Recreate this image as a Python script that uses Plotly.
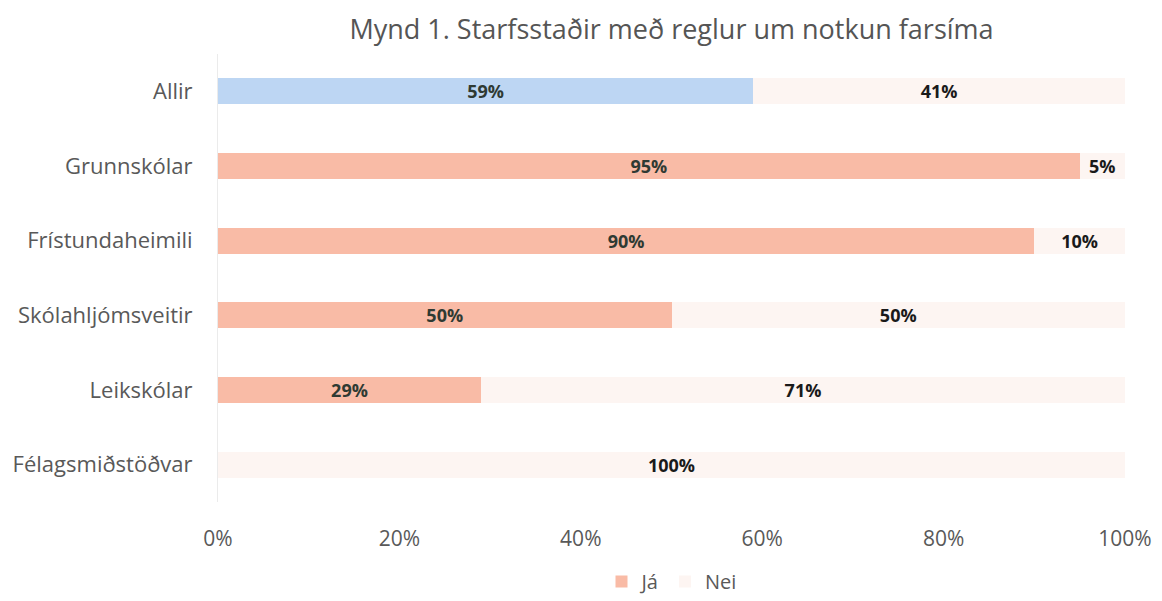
import plotly.graph_objects as go

categories = ["Allir", "Grunnskólar", "Frístundaheimili", "Skólahljómsveitir", "Leikskólar", "Félagsmiðstöðvar"]
ja_values = [59, 95, 90, 50, 29, 0]
nei_values = [41, 5, 10, 50, 71, 100]
x_ticks = [0, 20, 40, 60, 80, 100]
x_tick_labels = [f"{v}%" for v in x_ticks]

font_family = "'Open Sans', Lato, sans-serif"
W, H = 1154, 593  # page body has an 8px margin
M_L, M_R, M_T, M_B = 210, 37, 46, 99

label_font_ja = dict(family=font_family, size=18, color="#2f3a33", weight="bold")
label_font_nei = dict(family=font_family, size=18, color="#1a1a1a", weight="bold")

fig = go.Figure()
# "Allir" (total) bar for Já drawn in blue, kept out of the legend
fig.add_trace(go.Bar(
    y=categories[:1], x=ja_values[:1], name="Já", orientation="h",
    marker=dict(color="#bdd6f3", line=dict(width=0)),
    text=[f"{v}%" for v in ja_values[:1]],
    textposition="inside", insidetextanchor="middle", constraintext="none",
    textfont=label_font_ja,
    width=0.35, showlegend=False, legendgroup="ja",
))
fig.add_trace(go.Bar(
    y=categories[1:], x=ja_values[1:], name="Já", orientation="h",
    marker=dict(color="#f9bba6", line=dict(width=0)),
    text=[f"{v}%" if v > 0 else "" for v in ja_values[1:]],
    textposition="inside", insidetextanchor="middle", constraintext="none",
    textfont=label_font_ja,
    width=0.35, legendgroup="ja",
))
fig.add_trace(go.Bar(
    y=categories, x=nei_values, name="Nei", orientation="h",
    marker=dict(color="#fdf5f2", line=dict(width=0)),
    text=[f"{v}%" for v in nei_values],
    textposition="inside", insidetextanchor="middle", constraintext="none",
    textfont=label_font_nei,
    width=0.35,
))

fig.update_layout(
    barmode="stack",
    width=W, height=H,
    paper_bgcolor="white", plot_bgcolor="white",
    margin=dict(l=M_L, r=M_R, t=M_T, b=M_B),
    font=dict(family=font_family, color="#595959"),
    title=dict(text="Mynd 1. Starfsstaðir með reglur um notkun farsíma",
               x=0.5, xref="paper", xanchor="center",
               y=1 - 22 / H, yanchor="middle",
               font=dict(size=27, color="#555555", family=font_family)),
    legend=dict(orientation="h", x=0.5, xanchor="center",
                yref="container", y=0, yanchor="bottom",
                font=dict(size=20, color="#595959"), traceorder="normal"),
)
fig.update_xaxes(range=[0, 100], tickvals=x_ticks, ticktext=x_tick_labels,
                 showgrid=False, zeroline=False, showline=False, automargin=False,
                 tickfont=dict(size=21, color="#595959"), ticks="", ticklabelstandoff=22)
fig.update_yaxes(categoryorder="array", categoryarray=categories, autorange="reversed",
                 showgrid=False, showline=True, linecolor="#ebebeb", linewidth=1,
                 automargin=False,
                 tickfont=dict(size=22, color="#595959"), ticks="", ticklabelstandoff=20)

fig.write_html("out.html")
